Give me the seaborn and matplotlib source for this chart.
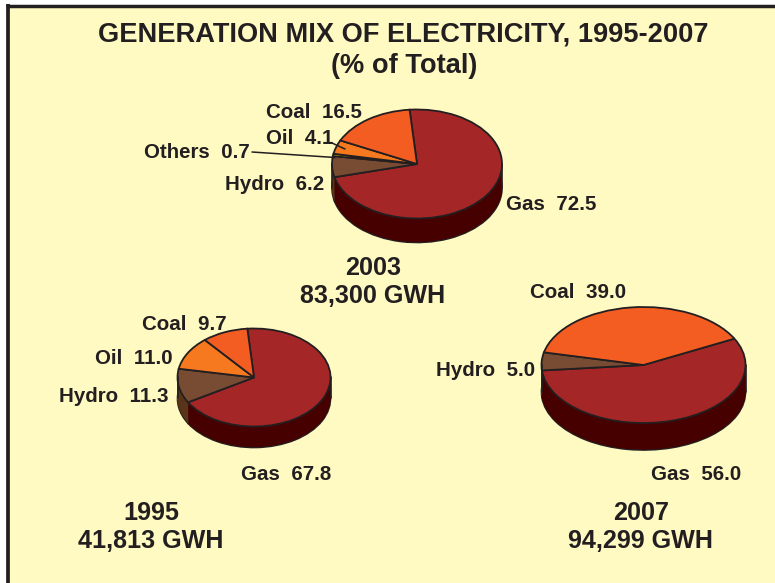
import matplotlib
matplotlib.use("Agg")
import matplotlib.pyplot as plt
import seaborn as sns

# data, clockwise from gas
labels_2003 = ['Gas', 'Hydro', 'Others', 'Oil', 'Coal']
values_2003 = [72.5, 6.2, 0.7, 4.1, 16.5]
labels_1995 = ['Gas', 'Hydro', 'Oil', 'Coal']
values_1995 = [67.8, 11.3, 11.0, 9.7]
labels_2007 = ['Gas', 'Hydro', 'Coal']
values_2007 = [56.0, 5.0, 39.0]

top_colors = {'Gas': '#A52626', 'Hydro': '#784B33', 'Others': '#D9B400',
              'Oil': '#F7791F', 'Coal': '#F45D22'}
wall_colors = {'Gas': '#470000', 'Hydro': '#5A3418', 'Others': '#470000',
               'Oil': '#470000', 'Coal': '#470000'}

ink = '#231F20'
bg = '#FFF9C2'
W, H = 775, 583

sns.set_theme(style="white")
plt.rcParams['font.family'] = ['Liberation Sans', 'DejaVu Sans']

fig = plt.figure(figsize=(W / 100, H / 100), dpi=100, facecolor='white')

base = fig.add_axes([0, 0, 1, 1], zorder=0)
base.set_xlim(0, W)
base.set_ylim(H, 0)
base.axis('off')
base.fill_between([8, W], 5, H, color=bg, lw=0)
base.plot([8, 8], [4, H], color=ink, lw=2.7, solid_capstyle='butt')
base.plot([6, W], [5.5, 5.5], color=ink, lw=2.5, solid_capstyle='butt')


def pie3d(labels, values, cx, cy, rx, ry, depth, start):
    # axes placed so the unit circle lands on the ellipse in pixels
    d = depth / ry
    pad = 1.05
    left = (cx - rx * pad) / W
    bottom = (H - cy - ry * (pad + d)) / H
    ax = fig.add_axes([left, bottom, 2 * rx * pad / W, ry * (2 * pad + d) / H], zorder=1)
    tops = sns.color_palette([top_colors[k] for k in labels])
    walls = sns.color_palette([wall_colors[k] for k in labels])
    # bottom rim with outline, then layers of wall, then the top face
    ax.pie(values, colors=walls, center=(0, -d), radius=1, startangle=start, counterclock=False,
           wedgeprops={'edgecolor': ink, 'linewidth': 1.2})
    for i in range(1, depth * 2):
        ax.pie(values, colors=walls, center=(0, -d + i / (depth * 2) * d), radius=1,
               startangle=start, counterclock=False, wedgeprops={'linewidth': 0})
    ax.plot([-1, -1], [0, -d], color=ink, lw=1.2)
    ax.plot([1, 1], [0, -d], color=ink, lw=1.2)
    ax.pie(values, colors=tops, center=(0, 0), radius=1, startangle=start, counterclock=False,
           wedgeprops={'edgecolor': ink, 'linewidth': 1.3})
    ax.set_aspect('auto')
    ax.set_xlim(-pad, pad)
    ax.set_ylim(-pad - d, pad)
    ax.patch.set_alpha(0)
    return ax


pie3d(labels_2003, values_2003, 417, 164, 85, 54.5, 24, 95)
pie3d(labels_1995, values_1995, 254, 377.5, 76.5, 49, 21, 95)
pie3d(labels_2007, values_2007, 643.5, 365, 102, 58, 27, 27)

over = fig.add_axes([0, 0, 1, 1], zorder=2)
over.set_xlim(0, W)
over.set_ylim(H, 0)
over.axis('off')
over.patch.set_alpha(0)

over.plot([252, 335], [152, 157.5], color=ink, lw=1.1)
over.plot([332, 345], [143, 149], color=ink, lw=1.1)

big = dict(ha='center', va='center', color=ink, fontweight='bold')
over.text(403.5, 35, 'GENERATION MIX OF ELECTRICITY, 1995-2007', fontsize=19.6, **big)
over.text(404, 66, '(% of Total)', fontsize=19.6, **big)

for x, y, s in [(373, 268, '2003'), (373, 296, '83,300 GWH'),
                (151, 513, '1995'), (151, 541, '41,813 GWH'),
                (641, 513, '2007'), (641, 541, '94,299 GWH')]:
    over.text(x, y, s, fontsize=18.1, **big)

# x is the left edge of each label
small = dict(ha='left', va='center', color=ink, fontweight='bold', fontsize=14.8)
for x, y, s in [(266, 113, 'Coal  16.5'), (266, 138, 'Oil  4.1'), (144, 152, 'Others  0.7'),
                (225, 184, 'Hydro  6.2'), (506, 204, 'Gas  72.5'),
                (142, 324, 'Coal  9.7'), (95, 358, 'Oil  11.0'), (59, 396, 'Hydro  11.3'),
                (241, 474, 'Gas  67.8'),
                (530, 293, 'Coal  39.0'), (436, 370, 'Hydro  5.0'), (651, 474, 'Gas  56.0')]:
    over.text(x, y, s, **small)

fig.savefig('out.png', dpi=100)
